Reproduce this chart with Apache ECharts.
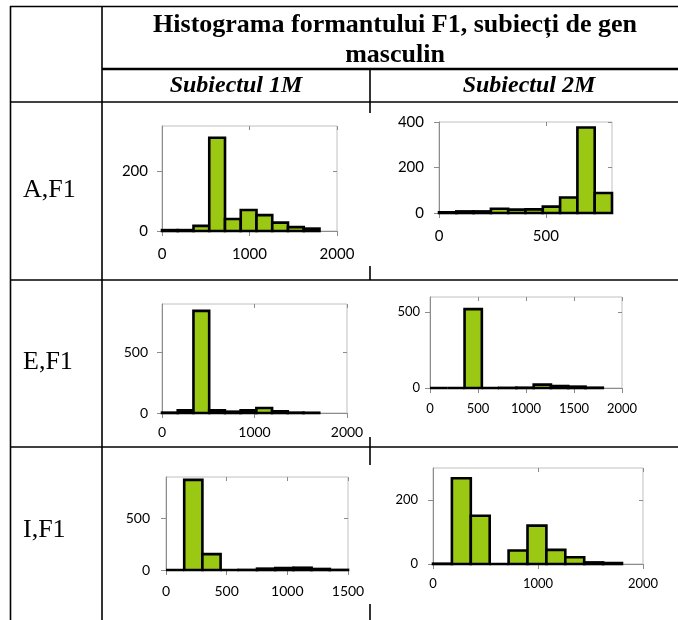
<!DOCTYPE html>
<html>
<head>
<meta charset="utf-8">
<script src="https://cdn.jsdelivr.net/npm/echarts@6/dist/echarts.min.js"></script>
<style>
  html, body { margin: 0; padding: 0; background: #fff; }
  #chart { width: 678px; height: 620px; }
</style>
</head>
<body>
<div id="chart"></div>
<script>
// Header texts
const titleLines = ['Histograma formantului F1, subiecți de gen', 'masculin'];
const subjects = ['Subiectul 1M', 'Subiectul 2M'];
const vowelRows = ['A,F1', 'E,F1', 'I,F1'];

// Bin edges (Hz) and counts per histogram
const edgesA1 = [0, 180, 360, 540, 720, 900, 1080, 1260, 1440, 1620, 1800];
const countsA1 = [3, 3, 17, 311, 40, 70, 53, 28, 13, 8];

const edgesA2 = [0, 81, 162, 243, 324, 405, 486, 567, 648, 729, 810];
const countsA2 = [3, 7, 7, 19, 15, 16, 28, 68, 376, 88];

const edgesE1 = [0, 170, 340, 510, 680, 850, 1020, 1190, 1360, 1530, 1700];
const countsE1 = [3, 22, 843, 22, 11, 22, 41, 14, 3, 2];

const edgesE2 = [0, 180, 360, 540, 720, 900, 1080, 1260, 1440, 1620, 1800];
const countsE2 = [0, 0, 520, 0, 1, 2, 22, 13, 9, 2];

const edgesI1 = [0, 150, 300, 450, 600, 750, 900, 1050, 1200, 1350, 1500];
const countsI1 = [0, 872, 154, 0, 1, 13, 19, 22, 10, 1];

const edgesI2 = [0, 180, 360, 540, 720, 900, 1080, 1260, 1440, 1620, 1800];
const countsI2 = [1, 268, 151, 0, 42, 120, 44, 21, 5, 3];

// Axis tick values
const xTicksA1 = [0, 1000, 2000];
const yTicksA1 = [0, 200];
const xTicksA2 = [0, 500];
const yTicksA2 = [0, 200, 400];
const xTicksE1 = [0, 1000, 2000];
const yTicksE1 = [0, 500];
const xTicksE2 = [0, 500, 1000, 1500, 2000];
const yTicksE2 = [0, 500];
const xTicksI1 = [0, 500, 1000, 1500];
const yTicksI1 = [0, 500];
const xTicksI2 = [0, 1000, 2000];
const yTicksI2 = [0, 200];

const panels = [
  { edges: edgesA1, counts: countsA1, xMax: 2000, yMax: 350, xTicks: xTicksA1, yTicks: yTicksA1,
    box: [162, 126, 175, 105], font: 15, xm: 16, ym: 14 },
  { edges: edgesA2, counts: countsA2, xMax: 810, yMax: 400, xTicks: xTicksA2, yTicks: yTicksA2,
    box: [439, 122, 173, 91], font: 15, xm: 16, ym: 15 },
  { edges: edgesE1, counts: countsE1, xMax: 2000, yMax: 900, xTicks: xTicksE1, yTicks: yTicksE1,
    box: [162, 304, 185, 109], font: 14, xm: 12, ym: 14 },
  { edges: edgesE2, counts: countsE2, xMax: 2000, yMax: 600, xTicks: xTicksE2, yTicks: yTicksE2,
    box: [430, 297, 192, 91], font: 13, xm: 14, ym: 10 },
  { edges: edgesI1, counts: countsI1, xMax: 1500, yMax: 900, xTicks: xTicksI1, yTicks: yTicksI1,
    box: [166, 477, 182, 93], font: 14, xm: 14, ym: 16 },
  { edges: edgesI2, counts: countsI2, xMax: 2000, yMax: 300, xTicks: xTicksI2, yTicks: yTicksI2,
    box: [433, 468, 210, 96], font: 13, xm: 13, ym: 15 }
];

const BAR_FILL = '#9BC813';
const AXIS_GRAY = '#8C8C8C';
const LABEL_FONT = 'Lato, "Open Sans", sans-serif';
const plainNumber = v => String(v);

const grids = [], xAxes = [], yAxes = [], series = [];

panels.forEach((p, i) => {
  grids.push({
    left: p.box[0], top: p.box[1], width: p.box[2], height: p.box[3],
    show: true, borderColor: '#C0C0C0', borderWidth: 1, backgroundColor: '#fff'
  });
  const xBase = { type: 'value', gridIndex: i, min: 0, max: p.xMax, splitLine: { show: false } };
  const yBase = { type: 'value', gridIndex: i, min: 0, max: p.yMax, splitLine: { show: false } };
  // outer ticks + labels
  xAxes.push(Object.assign({}, xBase, {
    axisLine: { show: true, onZero: false, lineStyle: { color: AXIS_GRAY, width: 1 } },
    axisTick: { show: true, length: 5, customValues: p.xTicks, lineStyle: { color: AXIS_GRAY } },
    axisLabel: { customValues: p.xTicks, formatter: plainNumber, margin: p.xm, fontSize: p.font,
      color: '#000', fontFamily: LABEL_FONT }
  }));
  // inner half of the cross ticks
  xAxes.push(Object.assign({}, xBase, {
    axisLine: { show: false, onZero: false },
    axisTick: { show: true, inside: true, length: 4, customValues: p.xTicks, lineStyle: { color: AXIS_GRAY } },
    axisLabel: { show: false }
  }));
  yAxes.push(Object.assign({}, yBase, {
    axisLine: { show: true, onZero: false, lineStyle: { color: AXIS_GRAY, width: 1 } },
    axisTick: { show: true, length: 5, customValues: p.yTicks, lineStyle: { color: AXIS_GRAY } },
    axisLabel: { customValues: p.yTicks, formatter: plainNumber, margin: p.ym, fontSize: p.font,
      color: '#000', fontFamily: LABEL_FONT }
  }));
  yAxes.push(Object.assign({}, yBase, {
    axisLine: { show: false, onZero: false },
    axisTick: { show: true, inside: true, length: 4, customValues: p.yTicks, lineStyle: { color: AXIS_GRAY } },
    axisLabel: { show: false }
  }));

  const data = p.counts.map((c, k) => [p.edges[k], p.edges[k + 1], c]);
  series.push({
    type: 'custom',
    xAxisIndex: 2 * i,
    yAxisIndex: 2 * i,
    data: data,
    encode: { x: [0, 1], y: 2 },
    renderItem: function (params, api) {
      const a = api.coord([api.value(0), api.value(2)]);
      const b = api.coord([api.value(1), 0]);
      return {
        type: 'rect',
        shape: { x: a[0], y: a[1], width: b[0] - a[0], height: b[1] - a[1] },
        style: { fill: BAR_FILL, stroke: '#000', lineWidth: 2.6 }
      };
    },
    z: 3
  });
});

// Table rules
const LW = 1.6;
function hLine(x1, x2, y, w) {
  return { type: 'line', z: 100, shape: { x1: x1, y1: y, x2: x2, y2: y }, style: { stroke: '#000', lineWidth: w || LW } };
}
function vLine(x, y1, y2, w) {
  return { type: 'line', z: 100, shape: { x1: x, y1: y1, x2: x, y2: y2 }, style: { stroke: '#000', lineWidth: w || LW } };
}
const serif = '"Liberation Serif", "Times New Roman", serif';

const graphics = [
  hLine(10, 690, 6.5),
  hLine(102, 690, 69, 2.4),
  hLine(10, 690, 102),
  hLine(10, 690, 280),
  hLine(10, 690, 447),
  vLine(10.5, 6, 620),
  vLine(102, 6, 620),
  vLine(370, 69, 113),
  vLine(370, 266, 280),
  vLine(370, 437, 465),
  vLine(370, 604, 620),
  { type: 'text', z: 100, style: { text: titleLines[0], x: 395, y: 25, align: 'center', verticalAlign: 'middle',
      font: 'bold 26px ' + serif, fill: '#000' } },
  { type: 'text', z: 100, style: { text: titleLines[1], x: 395, y: 55, align: 'center', verticalAlign: 'middle',
      font: 'bold 26px ' + serif, fill: '#000' } },
  { type: 'text', z: 100, style: { text: subjects[0], x: 236, y: 86, align: 'center', verticalAlign: 'middle',
      font: 'italic bold 24px ' + serif, fill: '#000' } },
  { type: 'text', z: 100, style: { text: subjects[1], x: 529, y: 86, align: 'center', verticalAlign: 'middle',
      font: 'italic bold 24px ' + serif, fill: '#000' } }
];
const rowY = [190, 362, 530];
vowelRows.forEach((t, i) => {
  graphics.push({ type: 'text', z: 100, style: { text: t, x: 23, y: rowY[i], align: 'left', verticalAlign: 'middle',
    font: '26px ' + serif, fill: '#000' } });
});

const chart = echarts.init(document.getElementById('chart'), null, { renderer: 'canvas' });
chart.setOption({
  animation: false,
  backgroundColor: '#fff',
  grid: grids,
  xAxis: xAxes,
  yAxis: yAxes,
  series: series,
  graphic: graphics
});
</script>
</body>
</html>
